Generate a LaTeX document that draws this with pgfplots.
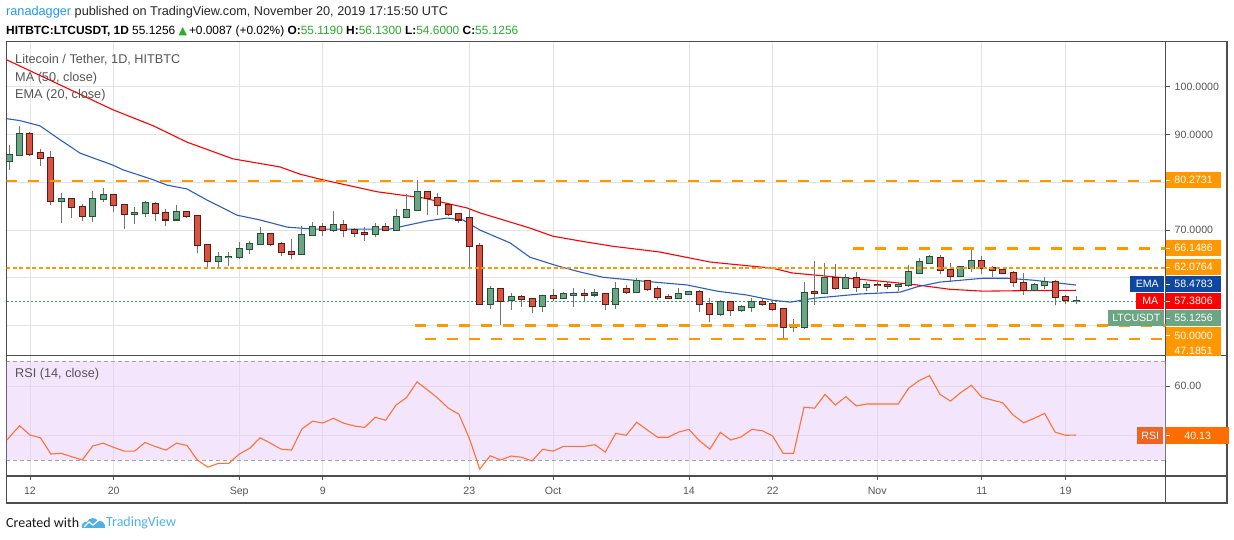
\documentclass[border=0pt]{standalone}
\usepackage{fontspec}
\setmainfont{Liberation Sans}
\newfontfamily\symfont{DejaVu Sans}
\newfontfamily\footfont{Carlito}
\usepackage{pgfplots}
\usepackage{pgfplotstable}
\pgfplotsset{compat=1.18}
\definecolor{gfill}{HTML}{6BA583}
\definecolor{gbord}{HTML}{225437}
\definecolor{rfill}{HTML}{D75442}
\definecolor{rbord}{HTML}{5B1A13}
\definecolor{wick}{HTML}{737375}
\definecolor{tvorange}{HTML}{FF9800}
\definecolor{mared}{HTML}{FF0000}
\definecolor{emablue}{HTML}{2A5DC0}
\definecolor{emabox}{HTML}{0D47A1}
\definecolor{pricegreen}{HTML}{3E9A64}
\definecolor{rsiline}{HTML}{FF7134}
\definecolor{rsibox}{HTML}{FF6D00}
\definecolor{rsibox2}{HTML}{EE6420}
\definecolor{band}{RGB}{231,205,249}
\definecolor{gridc}{HTML}{E4E4E4}
\definecolor{framec}{HTML}{4D4D4D}
\definecolor{tickc}{HTML}{555555}
\definecolor{legc}{HTML}{555555}
\definecolor{userblue}{HTML}{2196F3}
\definecolor{hgreen}{HTML}{2BAA2B}
\definecolor{tvblue}{HTML}{4DB2E8}
\definecolor{rsidash}{HTML}{A8A0AE}

\pgfplotstableread{
d o h l c
-2 84.4 87.8 82.6 85.6
-1 85.6 91.8 85.5 90.1
0 90.2 90.5 85.5 85.9
1 86.1 87.0 83.5 85.0
2 85.0 86.6 75.3 76.1
3 76.0 77.8 71.5 76.5
4 76.4 76.5 72.6 74.8
5 74.8 75.4 71.9 72.9
6 72.9 78.2 71.7 76.4
7 76.4 78.8 75.9 77.3
8 77.3 77.4 73.7 75.3
9 75.2 75.5 70.3 73.3
10 73.4 74.8 71.3 73.5
11 73.5 76.1 72.7 75.6
12 75.5 75.9 71.9 73.5
13 73.5 74.4 70.9 72.2
14 72.2 75.3 72.0 73.7
15 73.7 74.0 72.6 73.0
16 73.0 73.1 65.1 66.8
17 66.8 66.8 62.3 63.6
18 63.6 65.3 62.3 64.3
19 64.25 65.3 62.4 64.3
20 64.4 67.4 64.0 66.0
21 66.0 67.7 64.9 67.0
22 67.0 70.7 66.8 69.1
23 69.1 69.3 66.6 67.0
24 67.0 67.4 64.5 65.3
25 65.4 68.1 63.9 65.0
26 65.0 70.8 64.8 68.9
27 68.9 71.7 68.8 70.6
28 70.6 71.5 68.7 69.9
29 69.9 74.0 69.5 71.0
30 71.0 72.1 68.5 69.9
31 69.9 70.4 68.6 69.3
32 69.4 70.6 67.8 69.1
33 69.1 71.5 68.5 70.6
34 70.6 71.5 69.8 70.1
35 70.1 74.3 69.8 72.7
36 72.7 77.5 72.5 74.1
37 74.1 80.5 73.9 77.9
38 77.9 78.0 73.1 76.6
39 76.6 77.7 73.1 75.2
40 75.2 75.5 73.0 73.3
41 73.3 73.4 71.5 72.2
42 72.5 74.7 62.1 66.6
43 66.6 67.2 54.5 54.6
44 54.6 58.2 53.5 57.6
45 57.6 57.6 50.1 55.1
46 55.4 56.9 53.3 56.0
47 56.0 56.3 53.9 55.6
48 55.6 55.8 52.6 54.0
49 54.1 56.4 52.9 56.2
50 56.2 57.6 55.1 55.8
51 55.8 57.0 55.5 56.6
52 56.4 57.9 53.9 56.6
53 56.5 57.6 55.2 56.45
54 56.5 57.6 55.9 56.9
55 56.7 56.9 53.3 54.6
56 54.5 59.1 53.5 57.6
57 57.6 58.4 56.7 57.0
58 57.0 59.9 56.9 59.3
59 59.3 59.4 57.2 57.6
60 57.6 58.3 55.4 55.9
61 55.9 56.5 55.6 55.7
62 55.7 57.9 55.5 56.6
63 56.6 57.3 56.4 57.0
64 57.0 57.4 52.8 54.6
65 54.6 55.8 50.7 52.5
66 52.5 55.4 51.9 55.0
67 55.0 55.2 52.1 53.2
68 53.2 54.3 52.8 53.8
69 53.8 55.8 52.8 54.9
70 54.9 55.6 54.1 54.6
71 54.6 55.0 53.0 53.4
72 53.4 53.6 47.3 49.6
73 49.6 51.3 48.6 49.8
74 49.6 59.1 49.3 56.9
75 57.0 63.5 54.4 56.8
76 56.8 63.1 56.5 59.9
77 59.9 62.8 57.5 57.8
78 57.8 60.7 57.6 59.9
79 59.9 61.3 57.1 58.0
80 58.0 59.2 57.2 58.4
81 58.45 59.2 57.0 58.4
82 58.4 59.2 57.7 58.2
83 58.2 59.1 57.3 58.4
84 58.4 62.6 58.0 61.3
85 61.1 64.1 60.8 63.2
86 63.1 64.7 62.9 64.3
87 64.1 64.7 60.7 61.6
88 61.6 63.0 59.1 60.4
89 60.4 62.4 60.2 62.2
90 62.0 66.4 61.2 63.6
91 63.6 64.5 60.7 62.0
92 62.0 62.4 60.2 61.6
93 61.6 61.7 60.7 60.9
94 60.9 61.4 58.0 59.1
95 59.0 60.9 56.3 57.5
96 57.5 59.0 57.3 58.4
97 58.4 60.2 57.7 59.2
98 59.2 59.5 54.2 55.9
99 55.9 56.4 54.5 55.3
100 55.119 56.13 54.6 55.1256
}\candles

\pgfplotstableread{
d p
-2.2 105.6
7.9 95.2
11.8 91.8
15 88.4
19.4 84.9
23.9 83.2
25.8 81.7
28 80.5
33.2 78.0
37.6 76.7
41.8 74.6
43 73.6
47.8 70.4
50 68.7
52.6 67.7
55.7 66.6
60.2 65.4
65 63.3
71 62.0
72.9 61.0
79.3 59.7
82.2 59.1
84.8 58.5
87.9 57.6
91.1 57.2
94.9 57.3
100 57.38
}\ma

\pgfplotstableread{
d p
-2.87 93.5
-0.96 92.9
0.96 91.8
2.87 88.9
4.78 86.1
7.9 83.6
8.9 82.6
11.8 80.5
13.1 79.4
15 78.6
16.9 76.3
19.8 73.1
22 72.1
24.6 70.6
25.8 70.4
27.1 70.2
32.5 70.2
34.4 70.2
38 71.9
39.9 72.5
41.4 72.1
43 70.0
45.9 67.3
47.8 64.3
50.4 62.5
52.6 61.2
54.8 60.1
58.6 59.3
62.8 58.5
65.7 57.2
68.5 56.4
71 55.3
72.7 54.9
74.9 55.7
79.3 56.6
83.2 57.0
84.8 58.1
87 59.1
91.1 59.9
93.4 59.9
95.9 59.5
100 58.48
}\ema

\pgfplotstableread{
d r
-2.2 38.1
-1 43.9
0 40.1
1 39.0
2 32.4
3 32.7
4 31.3
5 30.0
6 35.7
7 36.8
8 35.1
9 33.6
10 33.6
11 37.1
12 35.4
13 34.0
14 36.8
15 35.9
16 30.0
17 27.1
18 28.6
19 28.6
20 32.4
21 34.7
22 39.0
23 36.8
24 34.4
25 34.0
26 42.6
27 45.7
28 45.0
29 46.9
30 44.9
31 43.8
32 43.2
33 47.3
34 46.1
35 52.3
36 55.3
37 61.7
38 58.4
39 55.0
40 51.0
41 48.6
42 38.8
43 26.3
44 31.7
45 30.0
46 31.6
47 31.1
48 29.6
49 34.3
50 33.6
51 35.5
52 35.5
53 35.5
54 36.2
55 33.2
56 40.8
57 40.0
58 45.3
59 42.2
60 39.2
61 39.2
62 41.3
63 42.4
64 37.8
65 34.4
66 41.2
67 38.1
68 39.4
69 42.4
70 41.9
71 39.7
72 32.7
73 32.7
74 51.4
75 51.0
76 56.6
77 52.3
78 55.7
79 51.9
80 52.7
81 52.7
82 52.7
83 52.7
84 59.1
85 62.2
86 64.2
87 56.6
88 53.9
89 57.4
90 60.3
91 55.4
92 54.3
93 53.2
94 48.2
95 45.1
96 46.9
97 48.9
98 41.3
99 40.0
100 40.13
}\rsi

\tikzset{
 pbox/.style={fill=#1, text=white, font=\fontsize{10.6}{12}\selectfont, inner sep=0pt, minimum height=16.4pt, minimum width=55.3pt, anchor=west},
 nbox/.style={fill=#1, text=white, font=\fontsize{10.6}{12}\selectfont, inner sep=0pt, minimum height=16.4pt, anchor=east},
 leg/.style={anchor=west, text=legc, font=\fontsize{12.7}{14}\selectfont, inner sep=0pt}
}
\pgfplotsset{
 candlebar/.style n args={2}{only marks, mark size=0pt, mark options={draw=none, fill=none}, forget plot,
   error bars/.cd, y dir=plus, y explicit, error mark=none,
   error bar style={line width=#1, draw=#2, solid}, /pgfplots/.cd}
}

\begin{document}
\begin{tikzpicture}
\path[use as bounding box] (0,0) rectangle (1234pt,540pt);
% ---------------- main price panel
\begin{axis}[at={(6.7pt,184.3pt)}, anchor=south west, scale only axis,
  width=1159pt, height=314pt,
  xmin=-2.2275, xmax=108.576, ymin=43.69, ymax=109.42,
  axis line style={framec, line width=1.2pt},
  xtick={0,8,20,28,42,50,63,71,81,91,99}, xticklabels={}, xtick style={draw=none},
  ytick={50,60,70,80,90,100}, yticklabels={{},{},70.0000,{},90.0000,100.0000},
  ytick pos=right, yticklabel pos=right, tick align=outside, major tick length=4pt,
  ytick style={tickc, line width=0.8pt},
  yticklabel style={font=\fontsize{10.6}{12}\selectfont, text=tickc, anchor=west, xshift=1.5pt},
  grid=major, major grid style={gridc, line width=0.8pt},
  /pgf/number format/assume math mode=true]
% current price line
\addplot[pricegreen, line width=0.9pt, dash pattern=on 2pt off 2pt] coordinates {(-3,55.1256) (110,55.1256)};
% MA / EMA
\addplot[mared, line width=1.1pt] table[x=d, y=p] {\ma};
\addplot[emablue, line width=1.1pt] table[x=d, y=p] {\ema};
% wicks
\addplot[candlebar={1pt}{wick}]
  table[x=d, y=l, y error plus expr={\thisrow{h}-\thisrow{l}}] {\candles};
% green bodies
\addplot[restrict expr to domain={\thisrow{c}-\thisrow{o}}{0:100}, candlebar={7pt}{gbord}]
  table[x=d, y expr={min(\thisrow{o},\thisrow{c})-0.21}, y error plus expr={abs(\thisrow{c}-\thisrow{o})+0.42}] {\candles};
\addplot[restrict expr to domain={\thisrow{c}-\thisrow{o}}{0:100}, candlebar={5pt}{gfill}]
  table[x=d, y expr={min(\thisrow{o},\thisrow{c})}, y error plus expr={abs(\thisrow{c}-\thisrow{o})}] {\candles};
% red bodies
\addplot[restrict expr to domain={\thisrow{c}-\thisrow{o}}{-100:-0.0001}, candlebar={7pt}{rbord}]
  table[x=d, y expr={min(\thisrow{o},\thisrow{c})-0.21}, y error plus expr={abs(\thisrow{c}-\thisrow{o})+0.42}] {\candles};
\addplot[restrict expr to domain={\thisrow{c}-\thisrow{o}}{-100:-0.0001}, candlebar={5pt}{rfill}]
  table[x=d, y expr={min(\thisrow{o},\thisrow{c})}, y error plus expr={abs(\thisrow{c}-\thisrow{o})}] {\candles};
% horizontal levels
\addplot[tvorange, line width=2.2pt, dash pattern=on 11pt off 11pt] coordinates {(-2.3,80.2731) (110,80.2731)};
\addplot[tvorange, line width=2.2pt, dash pattern=on 11pt off 11pt] coordinates {(78.7,66.1486) (110,66.1486)};
\addplot[tvorange, line width=2.2pt, dash pattern=on 4pt off 2.6pt] coordinates {(-2.3,62.0764) (110,62.0764)};
\addplot[tvorange, line width=2.2pt, dash pattern=on 11pt off 11pt] coordinates {(36.8,50) (110,50)};
\addplot[tvorange, line width=2.2pt, dash pattern=on 11pt off 11pt] coordinates {(37.8,47.1851) (110,47.1851)};
\end{axis}

% ---------------- RSI panel
\begin{axis}[at={(6.7pt,64pt)}, anchor=south west, scale only axis,
  width=1159pt, height=120.3pt,
  xmin=-2.2275, xmax=108.576, ymin=23.5, ymax=72.3,
  axis line style={framec, line width=1.2pt},
  xtick={0,8,20,28,42,50,63,71,81,91,99},
  xticklabels={12,20,Sep,9,23,Oct,14,22,Nov,11,19},
  xtick pos=left, ytick pos=right, tick align=outside, major tick length=4pt,
  tick style={tickc, line width=0.8pt},
  xticklabel style={font=\fontsize{10.6}{12}\selectfont, text=tickc, yshift=-4pt},
  ytick={40,60}, yticklabels={{},60.00}, yticklabel pos=right,
  yticklabel style={font=\fontsize{10.6}{12}\selectfont, text=tickc, anchor=west, xshift=1.5pt},
  grid=major, major grid style={gridc, line width=0.8pt},
  /pgf/number format/assume math mode=true]
\addplot[draw=none, fill=band, fill opacity=0.5] coordinates {(-3,30) (-3,70) (110,70) (110,30)} -- cycle;
\addplot[rsidash, line width=0.9pt, dash pattern=on 4pt off 3pt] coordinates {(-3,70) (110,70)};
\addplot[rsidash, line width=0.9pt, dash pattern=on 4pt off 3pt] coordinates {(-3,30) (110,30)};
\addplot[rsiline, line width=1.1pt] table[x=d, y=r] {\rsi};
\end{axis}

% ---------------- frame
\draw[framec, line width=1.2pt] (6.7pt,64pt) -- (6.7pt,37pt) -- (1227pt,37pt) -- (1227pt,498.3pt) -- (6.7pt,498.3pt);
\draw[framec, line width=1.2pt] (1165.7pt,64pt) -- (1165.7pt,37pt);
\draw[framec, line width=1.2pt] (1165.7pt,184.3pt) -- (1227pt,184.3pt);
\draw[framec, line width=1.2pt] (1165.7pt,64pt) -- (1227pt,64pt);

% ---------------- right-hand labels
\node[pbox=tvorange] at (1165.7pt,360pt) {80.2731};
\node[pbox=tvorange] at (1165.7pt,291.7pt) {66.1486};
\node[pbox=tvorange] at (1165.7pt,273pt) {62.0764};
\node[pbox=emabox] at (1165.7pt,255.7pt) {58.4783};
\node[pbox=mared] at (1165.7pt,239pt) {57.3806};
\node[pbox=gfill] at (1165.7pt,221.7pt) {55.1256};
\node[pbox=tvorange] at (1165.7pt,204.5pt) {50.0000};
\begin{scope}
\clip (1160pt,184.9pt) rectangle (1234pt,200pt);
\node[pbox=tvorange] at (1165.7pt,189pt) {47.1851};
\end{scope}
\node[nbox=emabox, minimum width=34pt] at (1164.5pt,255.7pt) {EMA};
\node[nbox=mared, minimum width=28pt] at (1164.5pt,239pt) {MA};
\node[nbox=gfill, minimum width=56pt] at (1164.5pt,221.7pt) {LTCUSDT};
\foreach \yy in {360,291.7,273,255.7,239,221.7,204.5}{\draw[white, line width=0.8pt] (1165.7pt,\yy pt) -- (1169.7pt,\yy pt);}
% RSI labels
\node[nbox=rsibox2, minimum width=26pt] at (1163.5pt,104.5pt) {RSI};
\node[pbox=rsibox, minimum width=63.5pt] at (1165.7pt,104.5pt) {40.13};
\draw[white, line width=0.8pt] (1165.7pt,104.5pt) -- (1169.7pt,104.5pt);

% ---------------- legends
\node[leg] at (15pt,480pt) {Litecoin / Tether, 1D, HITBTC};
\node[leg] at (15pt,462pt) {MA (50, close)};
\node[leg] at (15pt,445pt) {EMA (20, close)};
\node[leg] at (15pt,166pt) {RSI (14, close)};

% ---------------- header
\node[anchor=west, inner sep=0pt, font=\fontsize{12.7}{14}\selectfont, text=black!85] at (6pt,527.3pt)
  {\textcolor{userblue}{ranadagger} published on TradingView.com, November 20, 2019 17:15:50 UTC};
\node[anchor=west, inner sep=0pt, font=\fontsize{11.9}{14}\selectfont, text=black] at (6pt,509pt)
  {\textbf{HITBTC:LTCUSDT, 1D}\ 55.1256 \textcolor{hgreen}{\symfont\fontsize{11}{13}\selectfont ▲}\,+0.0087 (+0.02\%) \textbf{O:}\textcolor{hgreen}{55.1190} \textbf{H:}\textcolor{hgreen}{56.1300} \textbf{L:}\textcolor{hgreen}{54.6000} \textbf{C:}\textcolor{hgreen}{55.1256}};

% ---------------- footer
\node[anchor=west, inner sep=0pt, font=\footfont\fontsize{14}{16}\selectfont, text=black!90] at (6pt,17.3pt) {Created with};
\fill[tvblue] (82pt,12pt) .. controls (81pt,16pt) and (84pt,19pt) .. (87pt,18pt) .. controls (89pt,23pt) and (96pt,23pt) .. (98pt,19pt) .. controls (102pt,20pt) and (106pt,16pt) .. (105pt,12pt) -- cycle;
\draw[white, line width=1.3pt] (84pt,13pt) -- (89pt,18pt) -- (93pt,15pt) -- (99pt,20pt);
\node[anchor=west, inner sep=0pt, font=\footfont\fontsize{14}{16}\selectfont, text=tvblue] at (106pt,17.3pt) {TradingView};
\end{tikzpicture}
\end{document}
